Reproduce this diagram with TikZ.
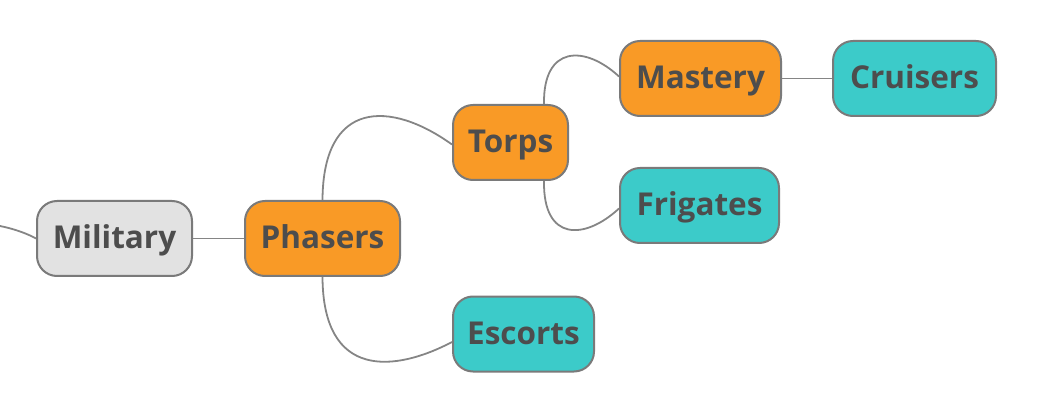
\documentclass[tikz,border=0pt]{standalone}
\usepackage{fontspec}
\setmainfont{Open Sans}
\begin{document}
\begin{tikzpicture}[x=1pt,y=-1pt,
  box/.style={draw=boxline, line width=2pt, rounded corners=20pt, minimum height=75pt,
    inner sep=0pt, text height=26pt, text depth=5pt, text=txt, font=\fontsize{31.5}{31.5}\selectfont\bfseries},
  orange/.style={box, fill=orng},
  teal/.style={box, fill=tl},
  grey/.style={box, fill=gry},
  link/.style={draw=lnk, line width=1.8pt}]
\definecolor{orng}{HTML}{F99A26}
\definecolor{tl}{HTML}{3CCBC9}
\definecolor{gry}{HTML}{E2E2E2}
\definecolor{boxline}{HTML}{7A7A7A}
\definecolor{txt}{HTML}{4D4D4D}
\definecolor{lnk}{HTML}{858585}
\useasboundingbox (0,0) rectangle (1058,414);
\node[grey, minimum width=155pt] (mil) at (114.5,238.5) {Military};
\node[orange, minimum width=155pt] (pha) at (322.5,238.5) {Phasers};
\node[orange, minimum width=115pt] (tor) at (510.5,142.5) {Torps};
\node[orange, minimum width=161pt] (mas) at (700.5,78.5) {Mastery};
\node[teal, minimum width=163pt] (cru) at (914.5,78.5) {Cruisers};
\node[teal, minimum width=159pt] (fri) at (699.5,205.5) {Frigates};
\node[teal, minimum width=141pt] (esc) at (523.5,334) {Escorts};
\coordinate (in) at (0,226);
\draw[link] (in) .. controls (15,229) and (28,234) .. (mil.west);
\draw[link] (mil.east) -- (pha.west);
\draw[link] (mas.east) -- (cru.west);
\draw[link] (pha.north) .. controls (323,100) and (390,100) .. ([yshift=-2pt]tor.west);
\draw[link] (pha.south) .. controls (323,380) and (395,372) .. ([yshift=-8pt]esc.west);
\draw[link] ([xshift=-25pt]tor.north east) .. controls (543,45) and (585,45) .. ([yshift=2pt]mas.west);
\draw[link] ([xshift=-25pt]tor.south east) .. controls (543,242) and (585,240) .. ([yshift=-3pt]fri.west);
\end{tikzpicture}
\end{document}
